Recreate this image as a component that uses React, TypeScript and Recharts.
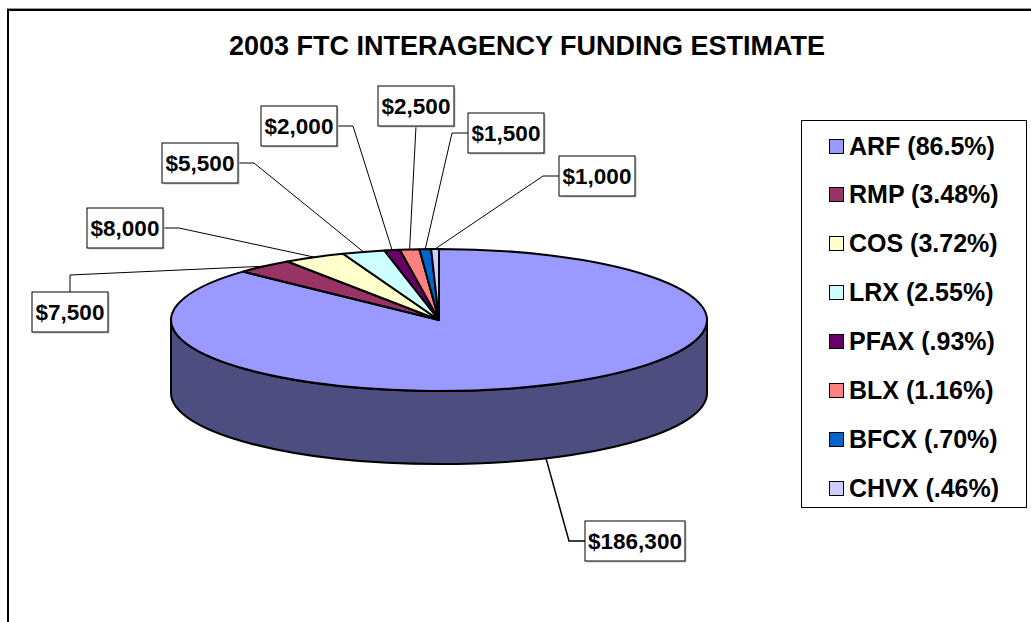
import React from 'react';
import { PieChart, Pie, Cell, Legend } from 'recharts';

const categories = ['ARF', 'RMP', 'COS', 'LRX', 'PFAX', 'BLX', 'BFCX', 'CHVX'];
const fundingValues = [186300, 7500, 8000, 5500, 2000, 2500, 1500, 1000];
const legendPercents = ['86.5%', '3.48%', '3.72%', '2.55%', '.93%', '1.16%', '.70%', '.46%'];
const sliceColors = ['#9999FF', '#993366', '#FFFFCC', '#CCFFFF', '#660066', '#FF8080', '#0066CC', '#CCCCFF'];
const chartTitle = '2003 FTC INTERAGENCY FUNDING ESTIMATE';

// label box layout (top-left, width, leader side)
const labelLayout = [
  { x: 585, y: 521, w: 100, side: 'left' },
  { x: 32, y: 292, w: 76, side: 'top' },
  { x: 87, y: 208, w: 76, side: 'right' },
  { x: 162, y: 143, w: 76, side: 'right' },
  { x: 261, y: 106, w: 76, side: 'right' },
  { x: 378, y: 86, w: 76, side: 'bottom' },
  { x: 468, y: 113, w: 76, side: 'left' },
  { x: 559, y: 156, w: 76, side: 'left' },
];

const data = categories.map((name, i) => ({ name, value: fundingValues[i] }));

const W = 1031;
const H = 622;
const TILT = 71 / 268;
const DEPTH = 73;
const FONT = '"Liberation Sans", Arial, sans-serif';

const darken = (hex: string, f: number) => {
  const n = parseInt(hex.slice(1), 16);
  const r = Math.round(((n >> 16) & 255) * f);
  const g = Math.round(((n >> 8) & 255) * f);
  const b = Math.round((n & 255) * f);
  return `rgb(${r},${g},${b})`;
};

const pt = (cx: number, cy: number, rx: number, ry: number, deg: number, dy = 0) => {
  const r = (deg * Math.PI) / 180;
  return [cx + rx * Math.cos(r), cy - ry * Math.sin(r) + dy];
};

const renderSlice = (props: any) => {
  const { cx, cy, outerRadius, startAngle, endAngle, fill } = props;
  const rx = outerRadius;
  const ry = rx * TILT;
  const hiA = Math.max(startAngle, endAngle);
  const loA = Math.min(startAngle, endAngle);
  const sides: any[] = [];
  [-720, -360, 0, 360].forEach((k) => {
    const lo = Math.max(loA, k - 180);
    const hi = Math.min(hiA, k);
    if (hi > lo + 1e-6) {
      const a = pt(cx, cy, rx, ry, hi);
      const b = pt(cx, cy, rx, ry, lo);
      const b2 = pt(cx, cy, rx, ry, lo, DEPTH);
      const a2 = pt(cx, cy, rx, ry, hi, DEPTH);
      const large = hi - lo > 180 ? 1 : 0;
      const d = `M${a[0]},${a[1]} A${rx},${ry} 0 ${large} 1 ${b[0]},${b[1]} L${b2[0]},${b2[1]} A${rx},${ry} 0 ${large} 0 ${a2[0]},${a2[1]} Z`;
      sides.push(
        <path key={k} d={d} fill={darken(fill, 0.5)} stroke="#000" strokeWidth={2} strokeLinejoin="round" />
      );
    }
  });
  const s = pt(cx, cy, rx, ry, hiA);
  const e = pt(cx, cy, rx, ry, loA);
  const large = hiA - loA > 180 ? 1 : 0;
  const top = `M${cx},${cy} L${s[0]},${s[1]} A${rx},${ry} 0 ${large} 1 ${e[0]},${e[1]} Z`;
  return (
    <g>
      {sides}
      <path d={top} fill={fill} stroke="#000" strokeWidth={2} strokeLinejoin="round" />
    </g>
  );
};

const renderLabel = (props: any) => {
  const { cx, cy, outerRadius, midAngle, index, value } = props;
  const rx = outerRadius;
  const ry = rx * TILT;
  const front = Math.sin((midAngle * Math.PI) / 180) < 0;
  const anchor = pt(cx, cy, rx, ry, midAngle, front ? DEPTH : 0);
  const L = labelLayout[index];
  const h = 40;
  let pts: number[][] = [];
  if (L.side === 'top') pts = [[L.x + L.w / 2, L.y], [L.x + L.w / 2, L.y - 17], anchor];
  else if (L.side === 'right') pts = [[L.x + L.w, L.y + h / 2], [L.x + L.w + 16, L.y + h / 2], anchor];
  else if (L.side === 'left') pts = [[L.x, L.y + h / 2], [L.x - 16, L.y + h / 2], anchor];
  else pts = [[L.x + L.w / 2, L.y + h], anchor];
  const d = pts.map((p, i) => `${i ? 'L' : 'M'}${p[0]},${p[1]}`).join(' ');
  return (
    <g key={`lbl-${index}`}>
      <path d={d} fill="none" stroke="#000" strokeWidth={index === 0 ? 1.5 : 1} />
      <rect x={L.x + 1.5} y={L.y + 1.5} width={L.w} height={h} fill="#c8c8c8" />
      <rect x={L.x} y={L.y} width={L.w} height={h} fill="#fff" stroke="#000" strokeWidth={1} />
      <text
        x={L.x + L.w / 2}
        y={L.y + h / 2 + 8}
        textAnchor="middle"
        fontFamily={FONT}
        fontWeight="bold"
        fontSize={22.5}
        fill="#000"
      >
        {`$${Number(value).toLocaleString('en-US')}`}
      </text>
    </g>
  );
};

const renderLegend = () => (
  <div
    style={{
      width: 226,
      height: 388,
      boxSizing: 'border-box',
      border: '1px solid #000',
      background: '#fff',
      position: 'relative',
      fontFamily: FONT,
    }}
  >
    {categories.map((c, i) => (
      <div
        key={c}
        style={{
          position: 'absolute',
          left: 27,
          top: 25 + 48.9 * i - 15,
          height: 30,
          display: 'flex',
          alignItems: 'center',
          whiteSpace: 'nowrap',
        }}
      >
        <span
          style={{
            display: 'inline-block',
            width: 13,
            height: 13,
            border: '1px solid #000',
            background: sliceColors[i],
            marginRight: 5,
          }}
        />
        <span style={{ fontSize: 25, fontWeight: 'bold', color: '#000' }}>{`${c} (${legendPercents[i]})`}</span>
      </div>
    ))}
  </div>
);

export default function App() {
  return (
    <div style={{ position: 'absolute', left: 0, top: 0, width: W, height: H, background: '#fff', overflow: 'hidden' }}>
      <div
        style={{
          position: 'absolute',
          left: 7,
          top: 9,
          width: W,
          height: H,
          borderLeft: '2px solid #000',
          borderTop: '2px solid #000',
          boxShadow: '0 -1px 0 #999',
        }}
      />
      <div
        style={{
          position: 'absolute',
          left: 0,
          top: 31,
          width: 1054,
          textAlign: 'center',
          fontFamily: FONT,
          fontWeight: 'bold',
          fontSize: 27,
          lineHeight: '30px',
          color: '#000',
        }}
      >
        {chartTitle}
      </div>
      <div style={{ position: 'absolute', left: 0, top: 0 }}>
        <PieChart width={W} height={H} margin={{ top: 0, right: 0, bottom: 0, left: 0 }}>
          <Pie
            data={data}
            dataKey="value"
            nameKey="name"
            cx={439}
            cy={320}
            outerRadius={268}
            startAngle={90}
            endAngle={-270}
            stroke="none"
            isAnimationActive={false}
            shape={renderSlice}
            label={renderLabel}
            labelLine={false}
          >
            {data.map((d, i) => (
              <Cell key={d.name} fill={sliceColors[i]} />
            ))}
          </Pie>
          <Legend
            content={renderLegend}
            wrapperStyle={{ position: 'absolute', left: 801, top: 120, width: 226, height: 388, bottom: 'auto' }}
          />
        </PieChart>
      </div>
    </div>
  );
}
